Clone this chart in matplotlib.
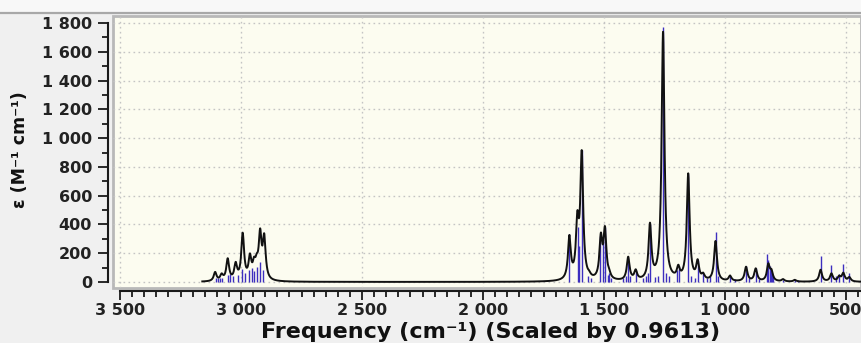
import numpy as np
import matplotlib
matplotlib.use("Agg")
import matplotlib.pyplot as plt
from matplotlib.lines import Line2D
from matplotlib.patches import Rectangle
from matplotlib.ticker import FixedLocator, MultipleLocator

# ---- data ----
# broadened spectrum: band centres (cm-1) and peak epsilon values
band_freq = [3107, 3080, 3055, 3022, 2993, 2963, 2946, 2935, 2921, 2904,
             1643, 1610, 1592, 1561, 1513, 1496, 1478, 1400, 1369, 1310,
             1256, 1230, 1193, 1152, 1113, 1090, 1039, 979, 913, 873,
             821, 808, 760, 711, 605, 560, 528, 511, 486]
band_eps = [70, 60, 165, 140, 343, 199, 176, 199, 373, 338,
            327, 496, 917, 79, 343, 389, 88, 176, 88, 412,
            1735, 70, 118, 755, 158, 65, 285, 45, 106, 95,
            130, 90, 20, 15, 85, 60, 45, 65, 35]

# stick spectrum: frequencies (cm-1) and drawn heights
stick_freq = [3105, 3096, 3087, 3080, 3052, 3045, 3032, 3011, 2996, 2983,
              2968, 2953, 2945, 2935, 2921, 2908,
              1643, 1609, 1604, 1592, 1565, 1554, 1515, 1503, 1496, 1485,
              1478, 1470, 1420, 1410, 1400, 1392, 1369, 1340, 1325, 1318,
              1310, 1290, 1275, 1256, 1245, 1230, 1200, 1190, 1152, 1140,
              1125, 1113, 1090, 1075, 1060, 1039, 1030, 979, 960, 913,
              900, 873, 860, 828, 822, 815, 810, 805, 800, 760,
              711, 700, 605, 560, 540, 528, 511, 486]
stick_height = [30, 25, 30, 30, 50, 55, 40, 45, 90, 60,
                85, 100, 75, 105, 140, 85,
                330, 380, 250, 920, 40, 30, 320, 300, 380, 50,
                60, 30, 30, 40, 170, 40, 80, 30, 40, 60,
                400, 35, 40, 1770, 60, 40, 80, 110, 750, 40,
                30, 150, 60, 30, 40, 350, 40, 40, 20, 110,
                25, 100, 20, 195, 150, 110, 80, 60, 40, 15,
                15, 12, 180, 120, 40, 55, 125, 65]

x_ticks = [3500, 3000, 2500, 2000, 1500, 1000, 500]
x_tick_labels = ["3 500", "3 000", "2 500", "2 000", "1 500", "1 000", "500"]
y_ticks = [0, 200, 400, 600, 800, 1000, 1200, 1400, 1600, 1800]
y_tick_labels = ["0", "200", "400", "600", "800", "1 000", "1 200",
                 "1 400", "1 600", "1 800"]

x_label = "Frequency (cm\u207b\u00b9) (Scaled by 0.9613)"
y_label = "\u03b5 (M\u207b\u00b9 cm\u207b\u00b9)"

hwhm = 7.0

# ---- build Lorentzian curve whose peaks match the read values ----
bf = np.array(band_freq, float)
be = np.array(band_eps, float)
def lor(d):
    return 1.0 / (1.0 + (d / hwhm) ** 2)
M = lor(bf[:, None] - bf[None, :])
amp = np.clip(np.linalg.solve(M, be), 0, None)
xc = np.arange(400.0, 3160.5, 0.5)
yc = (amp[None, :] * lor(xc[:, None] - bf[None, :])).sum(axis=1)

# ---- figure ----
W, H = 861, 343
fig = plt.figure(figsize=(W / 100, H / 100), dpi=100, facecolor="#f0f0f0")
fig.add_artist(Rectangle((0, 1 - 12 / H), 1, 12 / H, transform=fig.transFigure,
                         facecolor="#f8f8f8", edgecolor="none"))
fig.add_artist(Line2D([0, 1], [1 - 13 / H] * 2, transform=fig.transFigure,
                      color="#a8a8a8", lw=1.6))

L, R, T, B = 113, 861, 16, 288
ax = fig.add_axes([L / W, 1 - B / H, (R - L) / W, (B - T) / H])
ax.set_facecolor("#fcfcf0")
ax.patch.set_edgecolor("#b8b8b8")
ax.patch.set_linewidth(2.0)

ax.set_xlim(3529, 438)
ax.set_ylim(-42, 1849)

ax.vlines(stick_freq, 0, stick_height, color="#3d2fbf", lw=1.0, zorder=3)
ax.plot(xc, yc, color="#111111", lw=1.4, zorder=4)

ax.grid(True, which="major", color="#c4c4c4", linestyle=(0, (1.2, 2.4)), lw=1.0, zorder=1)

for s in ("top", "right"):
    ax.spines[s].set_visible(False)
ax.spines["left"].set_position(("outward", 3.6))
ax.spines["bottom"].set_position(("outward", 2.2))
ax.spines["left"].set_bounds(0, 1800)
ax.spines["bottom"].set_bounds(3500, 438)
for s in ("left", "bottom"):
    ax.spines[s].set_color("#1a1a1a")
    ax.spines[s].set_linewidth(1.5)

ax.xaxis.set_major_locator(FixedLocator(x_ticks))
ax.set_xticklabels(x_tick_labels, fontsize=11.5, fontweight="bold", color="#222222")
ax.xaxis.set_minor_locator(MultipleLocator(50))
ax.yaxis.set_major_locator(FixedLocator(y_ticks))
ax.set_yticklabels(y_tick_labels, fontsize=11.5, fontweight="bold", color="#222222")
ax.yaxis.set_minor_locator(MultipleLocator(100))

ax.tick_params(axis="y", which="major", length=7.5, width=1.3, pad=4, color="#1a1a1a")
ax.tick_params(axis="y", which="minor", length=4.5, width=1.3, color="#1a1a1a")
ax.tick_params(axis="x", which="major", length=6.5, width=1.3, pad=2, color="#1a1a1a")
ax.tick_params(axis="x", which="minor", length=4.5, width=1.3, color="#1a1a1a")

fig.text(491 / W, 1 - 337.5 / H, x_label, ha="center", va="baseline",
         fontsize=16, fontweight="bold", color="#111111")
fig.text(20 / W, 1 - 150 / H, y_label, ha="center", va="center", rotation=90,
         fontsize=12.5, fontweight="bold", color="#111111")

fig.savefig("out.png", dpi=100, facecolor=fig.get_facecolor())
